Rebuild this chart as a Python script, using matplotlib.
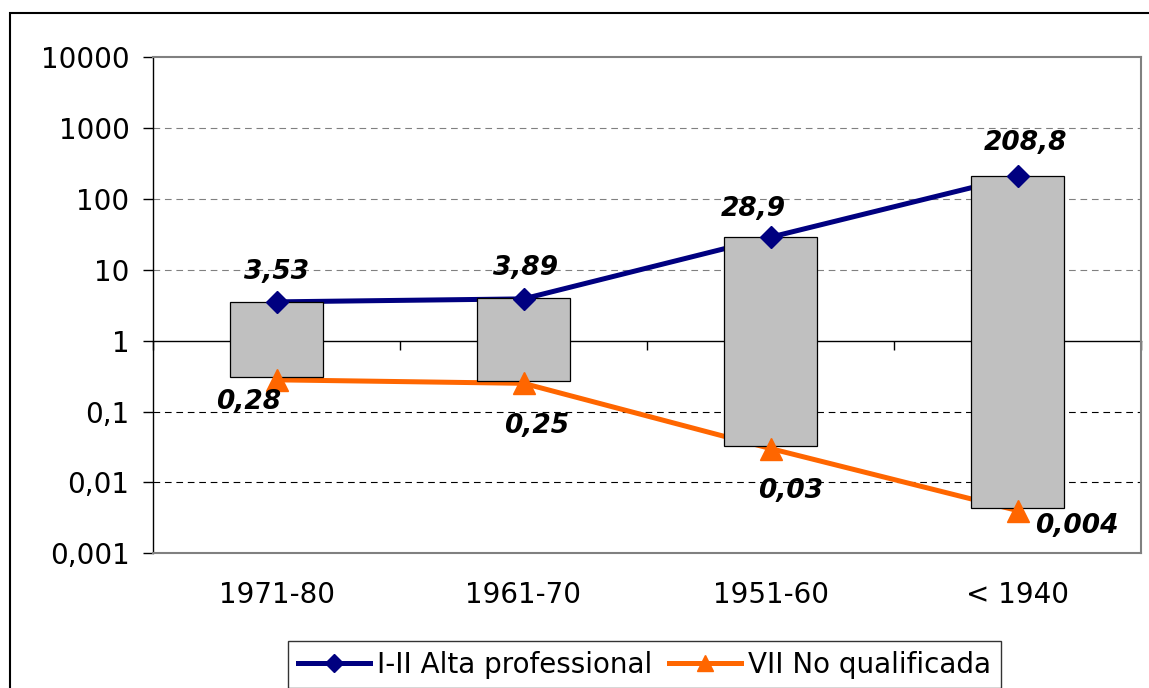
import numpy as np
import matplotlib.pyplot as plt
from matplotlib.lines import Line2D
from matplotlib.patches import Rectangle
from matplotlib.ticker import FixedLocator, FixedFormatter, NullLocator

plt.rcParams['font.family'] = ['DejaVu Sans']

# data
cohorts = ["1971-80", "1961-70", "1951-60", "< 1940"]
alta = [3.53, 3.89, 28.9, 208.8]
no_qual = [0.28, 0.25, 0.03, 0.004]
alta_labels = ["3,53", "3,89", "28,9", "208,8"]
no_qual_labels = ["0,28", "0,25", "0,03", "0,004"]
# the grey boxes (slightly off the rounded labels)
bar_low = [0.31, 0.27, 0.033, 0.0043]
bar_high = [3.5, 3.95, 28.8, 208.0]

ytick_vals = [0.001, 0.01, 0.1, 1, 10, 100, 1000, 10000]
ytick_labels = ["0,001", "0,01", "0,1", "1", "10", "100", "1000", "10000"]

BLUE = "#000080"
ORANGE = "#FF6600"

fig = plt.figure(figsize=(11.49, 6.88), dpi=100)
ax = fig.add_axes([153 / 1149, 1 - 553.2 / 688, 988 / 1149, (553.2 - 57.3) / 688])

x = np.arange(len(cohorts))

# lines go behind the boxes, markers on top
ax.plot(x, alta, color=BLUE, lw=3.6, zorder=1.5, solid_capstyle='butt')
ax.plot(x, no_qual, color=ORANGE, lw=3.6, zorder=1.5, solid_capstyle='butt')
ax.bar(x, np.array(bar_high) - np.array(bar_low), bottom=bar_low, width=0.38,
       color="#C0C0C0", edgecolor="black", linewidth=0.9, zorder=2)
ax.plot(x, alta, ls='none', marker='D', ms=11.5, color=BLUE, zorder=3)
ax.plot(x, no_qual, ls='none', marker='^', ms=16, color=ORANGE, zorder=3)

# value labels
alta_off = [(0, 30), (2, 31), (-17, 28), (8, 33)]
noq_off = [(-28, -22), (13, -43), (20, -42), (59, -15)]
for xi, v, lab, off in zip(x, alta, alta_labels, alta_off):
    ax.annotate(lab, (xi, v), xytext=off, textcoords='offset pixels',
                ha='center', va='center', fontsize=19, fontweight='bold',
                fontstyle='oblique', zorder=4)
for xi, v, lab, off in zip(x, no_qual, no_qual_labels, noq_off):
    ax.annotate(lab, (xi, v), xytext=off, textcoords='offset pixels',
                ha='center', va='center', fontsize=19, fontweight='bold',
                fontstyle='oblique', zorder=4)

ax.set_yscale('log')
ax.set_ylim(ytick_vals[0], ytick_vals[-1])
ax.set_xlim(-0.5, len(cohorts) - 0.5)
ax.yaxis.set_major_locator(FixedLocator(ytick_vals))
ax.yaxis.set_major_formatter(FixedFormatter(ytick_labels))
ax.yaxis.set_minor_locator(NullLocator())
ax.tick_params(axis='y', direction='out', length=7, width=1, pad=10,
               labelsize=20, color='black')
ax.set_xticks(x)
ax.set_xticklabels(cohorts)
ax.tick_params(axis='x', length=0, pad=20, labelsize=20)

# grid: grey dashes above 1, black below, none on 1 and the frame
ax.set_axisbelow(True)
ax.yaxis.grid(True, ls=(0, (6, 4.3)), lw=0.8)
for val, gl in zip(ytick_vals, ax.get_ygridlines()):
    if val in (ytick_vals[0], 1, ytick_vals[-1]):
        gl.set_visible(False)
    elif val > 1:
        gl.set_color("#808080")
    else:
        gl.set_color("black")

for side in ('top', 'right', 'bottom'):
    ax.spines[side].set_color("#808080")
    ax.spines[side].set_linewidth(1.5)
ax.spines['left'].set_color('black')
ax.spines['left'].set_linewidth(1)

# category axis crossing at 1
lo, hi = np.log10(ytick_vals[0]), np.log10(ytick_vals[-1])
sec = ax.secondary_xaxis((0 - lo) / (hi - lo))
sec.set_alignment('bottom')
sec.set_xticks(np.arange(len(cohorts) + 1) - 0.5)
sec.tick_params(direction='out', length=6.5, width=1, labelbottom=False,
                color='black')
sec.spines['bottom'].set_color('black')
sec.spines['bottom'].set_linewidth(1)

handles = [
    Line2D([], [], color=BLUE, lw=3.6, marker='D', ms=9),
    Line2D([], [], color=ORANGE, lw=3.6, marker='^', ms=12),
]
leg = fig.legend(handles, ["I-II Alta professional", "VII No qualificada"],
                 loc='upper center', bbox_to_anchor=(644.5 / 1149, 1 - 641 / 688),
                 ncol=2, fontsize=20, frameon=True, fancybox=False,
                 handlelength=2.6, handletextpad=0.25, columnspacing=0.58,
                 borderpad=0.35, borderaxespad=0)
leg.get_frame().set_edgecolor('black')
leg.get_frame().set_linewidth(1)

# outer chart border
fig.patches.append(Rectangle((10 / 1149, -0.1), 1.2, 1.1 - 12.5 / 688,
                             transform=fig.transFigure, fill=False,
                             edgecolor='black', linewidth=1.5))

fig.savefig("out.png", dpi=100)
